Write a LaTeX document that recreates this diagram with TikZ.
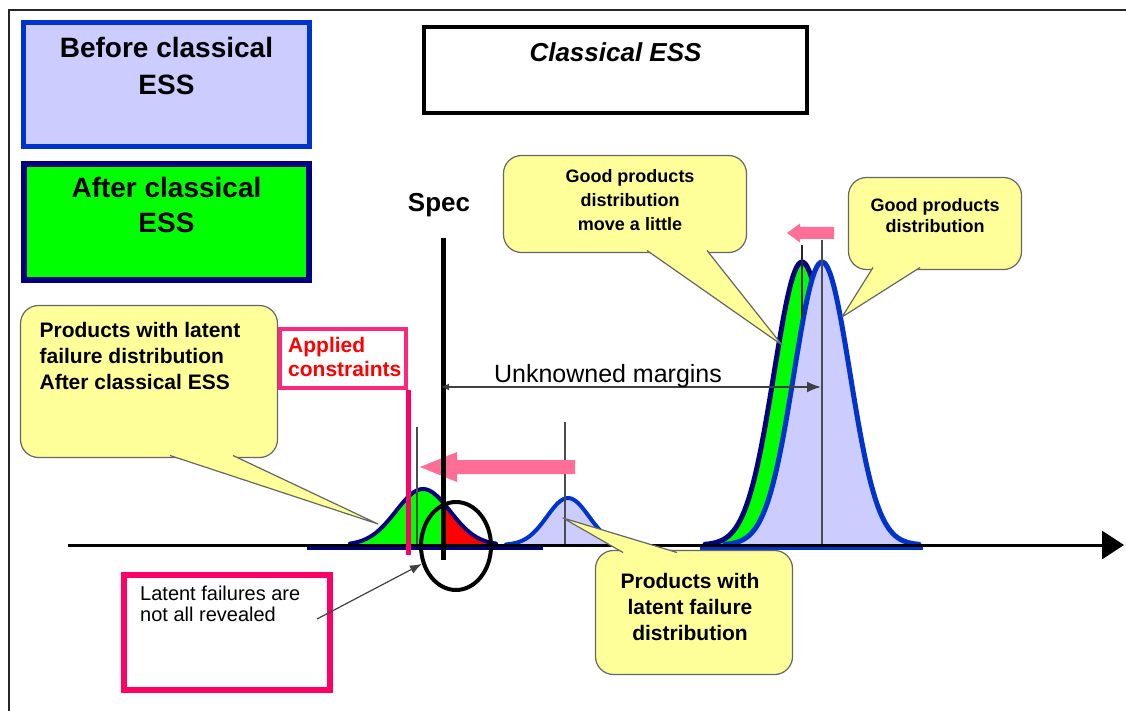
\documentclass[tikz,border=0pt]{standalone}
\usepackage{fontspec}
\setmainfont{Liberation Sans}
\usetikzlibrary{positioning, arrows.meta, shapes.geometric}

\definecolor{lavender}{RGB}{204,204,255}
\definecolor{boxblue}{RGB}{0,51,204}
\definecolor{navy}{RGB}{0,0,128}
\definecolor{callout}{RGB}{255,255,153}
\definecolor{hotpink}{RGB}{255,0,102}
\definecolor{shiftpink}{RGB}{255,110,150}
\definecolor{brightgreen}{RGB}{0,255,0}

% bell curve above the axis (y = 545)
\newcommand{\bell}[3]{545-#2*exp(-0.5*((\x-#1)/#3)^2)}

\begin{document}
\begin{tikzpicture}[x=1pt, y=-1pt,
    legend box/.style={draw, rectangle, inner sep=0pt},
    legend text/.style={align=center, inner sep=0pt, font=\fontsize{28}{37}\selectfont\bfseries},
    bubble/.style={draw=black!60, fill=callout, line width=1.2pt, rounded corners=18pt, inner sep=0pt},
    bubble text/.style={align=center, inner sep=0pt, font=\fontsize{18}{24}\selectfont\bfseries},
    guide/.style={draw=black!70, line width=1.5pt},
    curve/.style={line width=5pt, line join=round, line cap=round}]

    \useasboundingbox (0,0) rectangle (1126,711);

    % Frame
    \draw[black!85, line width=2.5pt] (9,711) -- (9,10) -- (1126,10);

    % Legend boxes
    \node[legend box, fill=lavender, draw=boxblue, line width=5pt, minimum width=286pt, minimum height=124pt] (box-before) at (166.5,84.5) {};
    \node[legend text, below=17.5pt of box-before.north] (txt-before) {Before classical\\ESS};
    \node[legend box, fill=brightgreen, draw=navy, line width=6pt, minimum width=285pt, minimum height=116pt] (box-after) at (166.5,222) {};
    \node[legend text, below=16pt of box-after.north, font=\fontsize{28}{35}\selectfont\bfseries] (txt-after) {After classical\\ESS};

    % Title
    \node[legend box, fill=white, line width=4pt, minimum width=383pt, minimum height=86pt] (box-title) at (615.5,70) {};
    \node[below=17pt of box-title.north, inner sep=0pt, font=\fontsize{26}{30}\selectfont\bfseries\itshape] (txt-title) {Classical ESS};

    % Small distributions
    \fill[brightgreen] (350,545) -- plot[domain=350:496, samples=60] (\x,{\bell{423}{56}{27}}) -- (496,545) -- cycle;
    \begin{scope}
        \clip (443,400) rectangle (500,546);
        \fill[red] (350,545) -- plot[domain=350:496, samples=60] (\x,{\bell{423}{56}{27}}) -- (496,545) -- cycle;
    \end{scope}
    \draw[navy, curve, line width=4pt] plot[domain=350:496, samples=60] (\x,{\bell{423}{56}{27}});
    \fill[lavender] (506,545) -- plot[domain=506:630, samples=60] (\x,{\bell{568}{47}{21}}) -- (630,545) -- cycle;
    \draw[boxblue, curve, line width=4pt] plot[domain=506:630, samples=60] (\x,{\bell{568}{47}{21}});

    % Good products distributions
    \fill[brightgreen] (705,545) -- plot[domain=705:899, samples=90] (\x,{\bell{802}{283}{28}}) -- (899,545) -- cycle;
    \draw[navy, curve] plot[domain=705:899, samples=90] (\x,{\bell{802}{283}{28}});
    \fill[lavender] (725,545) -- plot[domain=725:919, samples=90] (\x,{\bell{822}{283}{28}}) -- (919,545) -- cycle;
    \draw[boxblue, curve] plot[domain=725:919, samples=90] (\x,{\bell{822}{283}{28}});

    % Base strips under the curves
    \draw[navy, line width=3pt] (307,548) -- (543,548);
    \draw[boxblue, line width=3pt] (700,548) -- (923,548);

    % Mean lines
    \foreach \xm/\ytop in {417/427, 565/422, 822/240}
        \draw[guide] (\xm,\ytop) -- (\xm,545);
    \draw[black!85, line width=2pt] (802,245) -- (802,318);

    % Shift arrows
    \foreach \tip/\base/\tail/\yc/\hh/\bh in {420/457/575/467/15/7, 787/800/834/233/9.5/6}
        \fill[shiftpink] (\tail,{\yc-\bh}) -- (\base,{\yc-\bh}) -- (\base,{\yc-\hh}) -- (\tip,\yc)
            -- (\base,{\yc+\hh}) -- (\base,{\yc+\bh}) -- (\tail,{\yc+\bh}) -- cycle;

    % Axis
    \coordinate (axis-start) at (68,545);
    \coordinate (axis-end) at (1124,545);
    \draw[line width=3pt, -{Triangle[length=22pt, width=28pt]}] (axis-start) -- (axis-end);

    % Spec
    \coordinate (spec-top) at (443,238);
    \coordinate (spec-bot) at (443,560);
    \draw[line width=5pt] (spec-top) -- (spec-bot);
    \node[inner sep=0pt, anchor=base, font=\fontsize{26}{30}\selectfont\bfseries] (txt-spec) at (439,212) {Spec};

    % Applied constraints
    \node[legend box, draw=hotpink!85, fill=white, line width=4pt, minimum width=126pt, minimum height=59pt] (box-applied) at (343,358.5) {};
    \node[below right=10pt and 10pt of box-applied.north west, align=left, inner sep=0pt, text=red, font=\fontsize{21}{24}\selectfont\bfseries] (txt-applied) {Applied\\constraints};
    \draw[hotpink, line width=5pt] (box-applied.south east) -- ++(0,165);

    % Unknowned margins
    \coordinate (margin-left) at (441,387);
    \coordinate (margin-right) at (821,387);
    \draw[black!75, line width=2pt, {Latex[length=8pt, width=7pt]}-{Latex[length=14pt, width=11pt]}] (margin-left) -- (margin-right);
    \node[inner sep=0pt, anchor=base, font=\fontsize{25}{28}\selectfont] (txt-margins) at (608,382) {Unknowned margins};

    % Latent failures
    \node[draw, ellipse, line width=4pt, minimum width=70pt, minimum height=88pt, inner sep=0pt] (spot) at (456,546) {};
    \node[legend box, draw=hotpink, fill=white, line width=6pt, minimum width=206pt, minimum height=115pt] (box-latent) at (227,632.5) {};
    \node[below right=14pt and 19pt of box-latent.north west, align=left, inner sep=0pt, font=\fontsize{20}{21}\selectfont] (txt-latent) {Latent failures are\\not all revealed};
    \coordinate (latent-from) at (317,619);
    \draw[black!75, line width=1.2pt, -{Latex[length=12pt, width=9pt]}] (latent-from) -- (spot);

    % Callouts
    \node[bubble, minimum width=257pt, minimum height=152pt] (cl-after) at (149,381.5) {};
    \node[bubble, minimum width=243pt, minimum height=97pt] (cl-move) at (625,204) {};
    \node[bubble, minimum width=173pt, minimum height=92pt] (cl-good) at (935,223.5) {};
    \node[bubble, minimum width=197pt, minimum height=124pt] (cl-latent) at (694,612.5) {};
    \foreach \ax/\ay/\bx/\by/\tx/\ty in {170/455.5/233/455.5/378/524, 647/250.5/707/250.5/782/345,
                                         873/267.5/920/267.5/842/317, 623/552.5/677/552.5/563/518}
        \filldraw[draw=black!60, fill=callout, line width=1.2pt, line join=round] (\ax,\ay) -- (\tx,\ty) -- (\bx,\by);

    \node[below right=17pt and 19.5pt of cl-after.north west, align=left, inner sep=0pt, font=\fontsize{21}{26}\selectfont\bfseries] (txt-cl-after) {Products with latent\\failure distribution\\After classical ESS};
    \node[bubble text, below=14.5pt of cl-move.north, xshift=5pt] (txt-cl-move) {Good products\\distribution\\move a little};
    \node[bubble text, below=21.5pt of cl-good.north, font=\fontsize{18}{21}\selectfont\bfseries] (txt-cl-good) {Good products\\distribution};
    \node[bubble text, below=23.5pt of cl-latent.north, xshift=-4pt, font=\fontsize{21}{26}\selectfont\bfseries] (txt-cl-latent) {Products with\\latent failure\\distribution};

\end{tikzpicture}
\end{document}
